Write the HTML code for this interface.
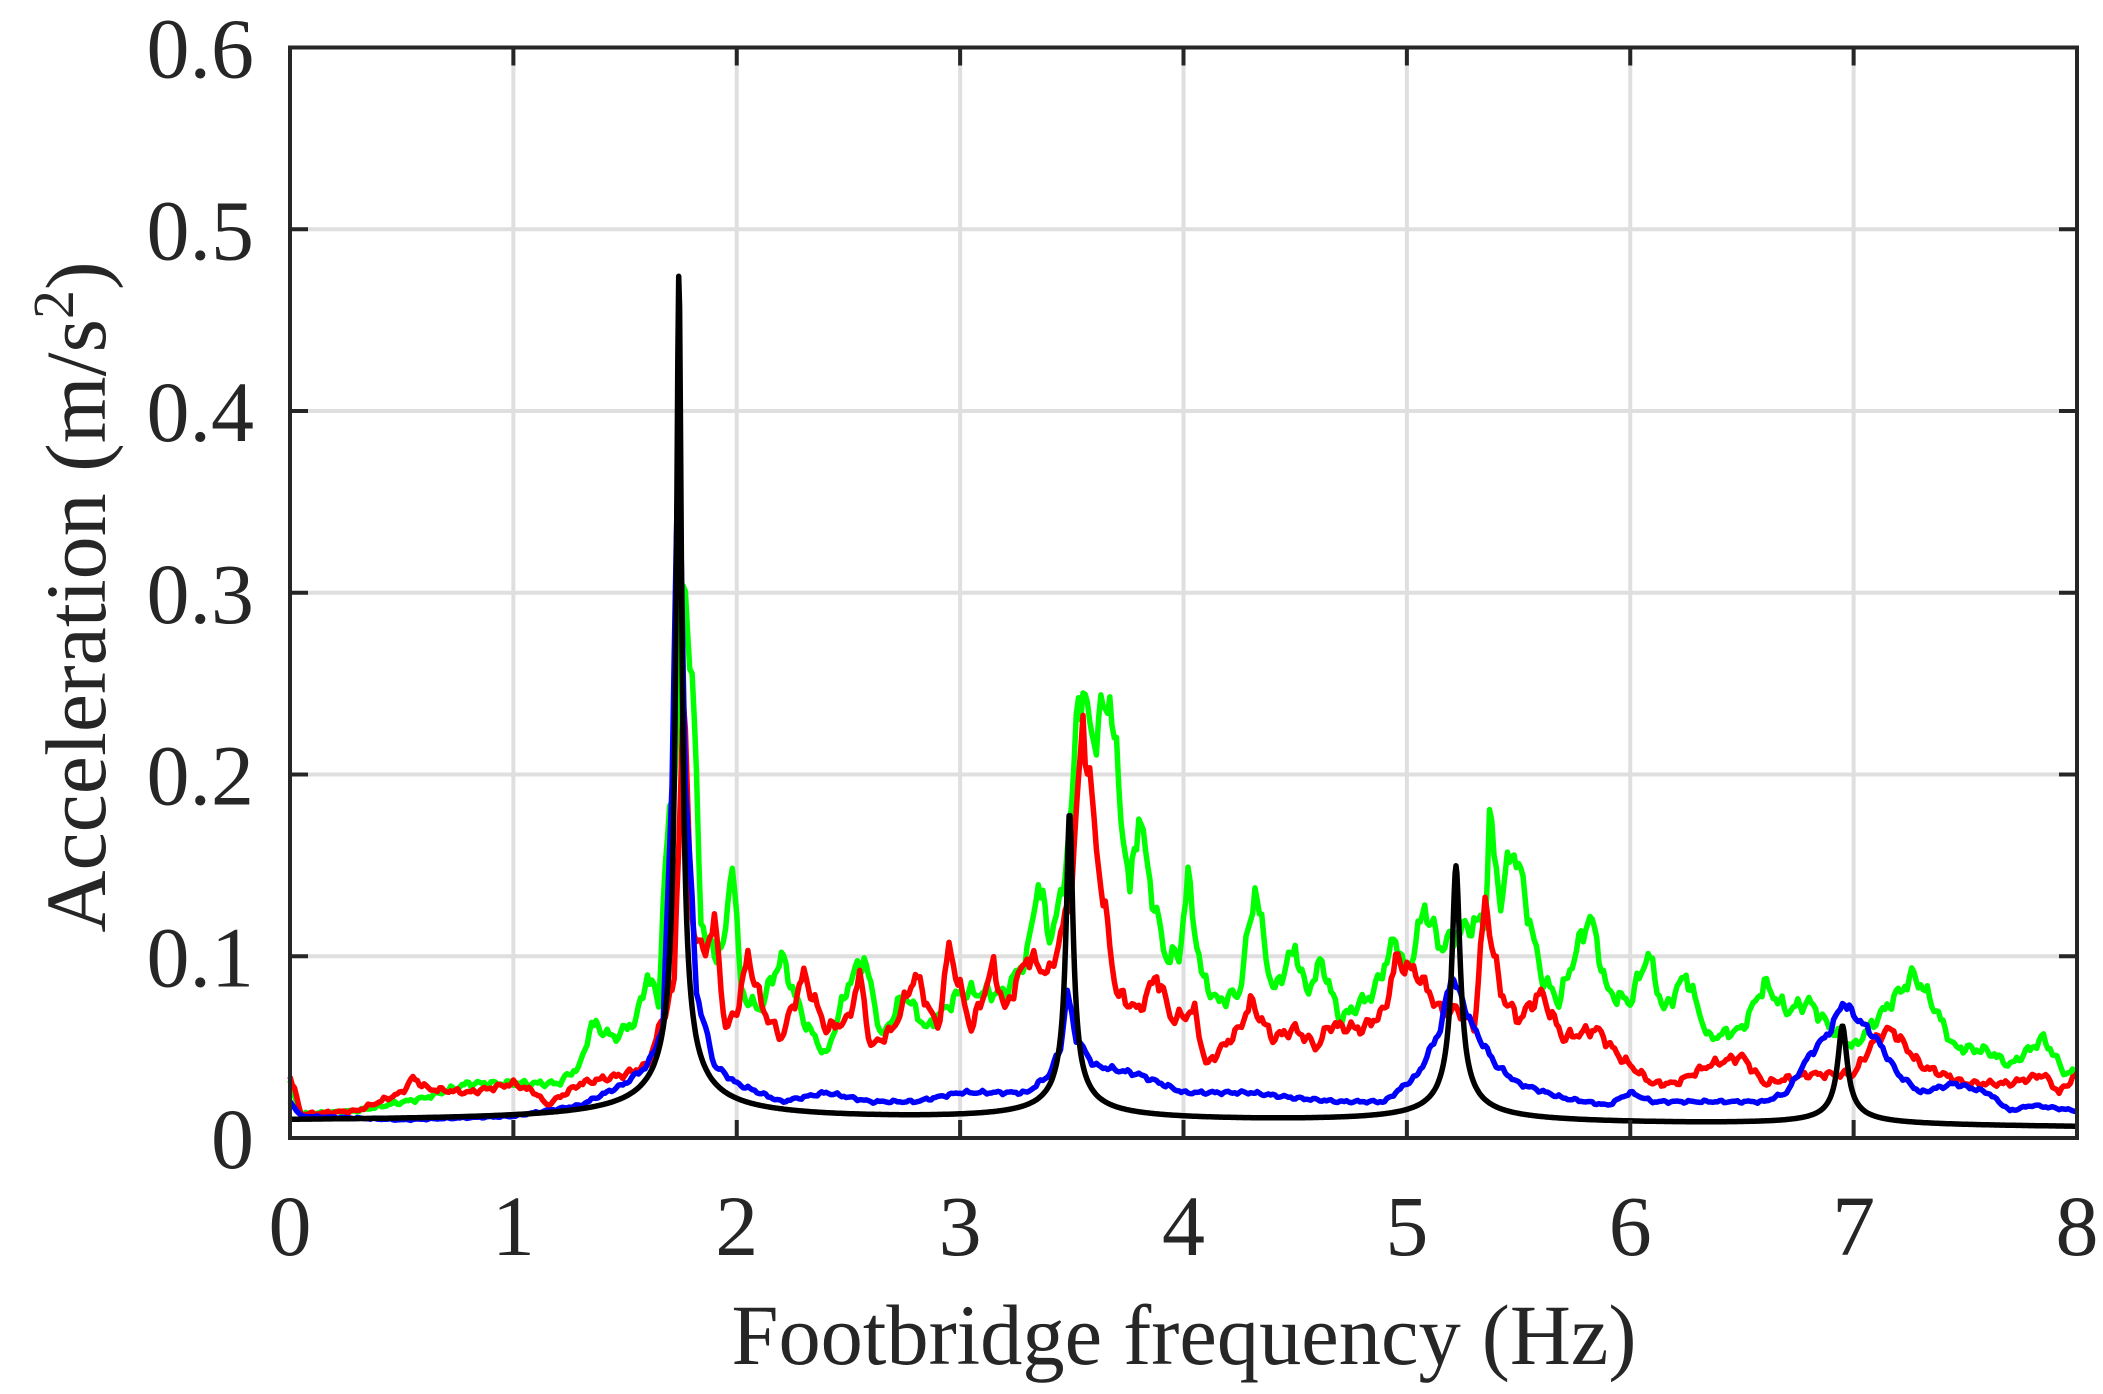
<!DOCTYPE html>
<html><head><meta charset="utf-8"><style>
html,body{margin:0;padding:0;background:#fff;}
svg{display:block;}
text{font-family:"Liberation Serif",serif;fill:#262626;}
</style></head><body>
<svg id="s" width="2103" height="1394" viewBox="0 0 2103 1394" xmlns="http://www.w3.org/2000/svg">
<rect width="2103" height="1394" fill="#fff"/>
<g id="grid" stroke="#dfdfdf" stroke-width="4"></g>
<g id="series" fill="none" stroke-width="5.5" stroke-linejoin="round"></g>
<rect x="290" y="47.5" width="1787" height="1090.5" fill="none" stroke="#262626" stroke-width="4"/>
<g id="ticks" stroke="#262626" stroke-width="4"></g>
<g id="labels" font-size="86"></g>
<text x="1184" y="1364" font-size="86" text-anchor="middle" textLength="905" lengthAdjust="spacingAndGlyphs">Footbridge frequency (Hz)</text>
<text transform="translate(105,597) rotate(-90)" font-size="86" text-anchor="middle">Acceleration (m/s<tspan font-size="58" dy="-32">2</tspan><tspan dy="32">)</tspan></text>
</svg>
<script>
var L=290,R=2077,T=47.5,B=1138;
function X(f){return L+(R-L)*f/8;}
function Y(v){return B-(B-T)*v/0.6;}
var ns="http://www.w3.org/2000/svg";
function el(p,n,a){var e=document.createElementNS(ns,n);for(var k in a)e.setAttribute(k,a[k]);p.appendChild(e);return e;}
var g=document.getElementById('grid'),tk=document.getElementById('ticks'),lb=document.getElementById('labels');
for(var i=1;i<8;i++){el(g,'line',{x1:X(i),x2:X(i),y1:T,y2:B});}
for(var j=1;j<6;j++){var v=j*0.1;el(g,'line',{x1:L,x2:R,y1:Y(v),y2:Y(v)});}
for(var i=0;i<=8;i++){el(tk,'line',{x1:X(i),x2:X(i),y1:B,y2:B-18});el(tk,'line',{x1:X(i),x2:X(i),y1:T,y2:T+18});
 var t=el(lb,'text',{x:X(i),y:1255,'text-anchor':'middle'});t.textContent=i;}
for(var j=0;j<=6;j++){var v=j*0.1;el(tk,'line',{x1:L,x2:L+18,y1:Y(v),y2:Y(v)});el(tk,'line',{x1:R,x2:R-18,y1:Y(v),y2:Y(v)});
 var t=el(lb,'text',{x:254,y:Y(v)+30,'text-anchor':'end'});t.textContent=j==0?'0':v.toFixed(1);}
function interp(pts,f){for(var k=1;k<pts.length;k++){if(f<=pts[k][0]){var a=pts[k-1],b=pts[k];return a[1]+(b[1]-a[1])*(f-a[0])/(b[0]-a[0]);}}return pts[pts.length-1][1];}
function noise(f,s){return Math.sin(f*97+s)*0.5+Math.sin(f*173+s*2)*0.3+Math.sin(f*251+s*3)*0.2;}
function path(pts,amp,seed,color){var d='';for(var f=0;f<=8.0001;f+=0.01){var v=interp(pts,f)+amp*noise(f,seed)*interp(pts,f)*0.6;d+=(f==0?'M':'L')+X(f).toFixed(1)+','+Y(v).toFixed(1);}
 el(document.getElementById('series'),'path',{d:d,stroke:color});}
var green=[[0,0.03],[0.05,0.013],[0.3,0.015],[0.6,0.022],[0.8,0.03],[1.0,0.03],[1.2,0.03],[1.3,0.04],[1.35,0.063],[1.45,0.055],[1.55,0.065],[1.6,0.09],[1.65,0.075],[1.68,0.15],[1.72,0.2],[1.76,0.305],[1.8,0.26],[1.84,0.12],[1.9,0.10],[1.95,0.11],[1.98,0.158],[2.02,0.08],[2.1,0.07],[2.2,0.10],[2.3,0.065],[2.4,0.045],[2.5,0.085],[2.57,0.1],[2.65,0.055],[2.75,0.08],[2.85,0.06],[3.0,0.08],[3.2,0.08],[3.3,0.1],[3.35,0.142],[3.4,0.11],[3.45,0.13],[3.5,0.18],[3.53,0.25],[3.6,0.22],[3.67,0.245],[3.72,0.18],[3.76,0.135],[3.8,0.18],[3.85,0.14],[3.92,0.1],[3.98,0.1],[4.02,0.143],[4.08,0.09],[4.15,0.075],[4.25,0.08],[4.32,0.138],[4.4,0.08],[4.5,0.105],[4.55,0.08],[4.62,0.097],[4.7,0.065],[4.85,0.08],[4.95,0.11],[5.0,0.09],[5.08,0.127],[5.15,0.105],[5.25,0.115],[5.35,0.12],[5.37,0.175],[5.42,0.13],[5.47,0.16],[5.5,0.15],[5.6,0.09],[5.68,0.075],[5.75,0.1],[5.82,0.123],[5.9,0.08],[6.0,0.075],[6.08,0.102],[6.15,0.07],[6.25,0.09],[6.35,0.055],[6.5,0.06],[6.6,0.085],[6.7,0.07],[6.8,0.075],[6.9,0.06],[7.0,0.05],[7.1,0.065],[7.27,0.09],[7.35,0.075],[7.45,0.05],[7.6,0.048],[7.7,0.04],[7.85,0.055],[7.95,0.035],[8.0,0.037]];
var red=[[0,0.035],[0.05,0.013],[0.3,0.015],[0.5,0.025],[0.55,0.033],[0.62,0.027],[0.8,0.025],[1.0,0.03],[1.1,0.025],[1.15,0.018],[1.3,0.03],[1.5,0.035],[1.6,0.04],[1.68,0.07],[1.72,0.085],[1.76,0.245],[1.8,0.12],[1.85,0.1],[1.9,0.12],[1.95,0.06],[2.0,0.07],[2.05,0.1],[2.12,0.07],[2.2,0.055],[2.3,0.09],[2.4,0.06],[2.5,0.065],[2.55,0.09],[2.6,0.05],[2.7,0.06],[2.8,0.09],[2.9,0.06],[2.95,0.105],[3.05,0.06],[3.15,0.095],[3.2,0.07],[3.3,0.1],[3.4,0.09],[3.47,0.12],[3.5,0.14],[3.55,0.23],[3.62,0.15],[3.7,0.08],[3.8,0.07],[3.88,0.09],[3.95,0.065],[4.05,0.07],[4.1,0.04],[4.25,0.06],[4.3,0.075],[4.4,0.055],[4.5,0.06],[4.6,0.05],[4.65,0.062],[4.8,0.06],[4.9,0.07],[4.95,0.098],[5.05,0.09],[5.15,0.07],[5.25,0.07],[5.3,0.06],[5.35,0.13],[5.42,0.08],[5.5,0.065],[5.6,0.08],[5.7,0.055],[5.85,0.06],[5.95,0.045],[6.1,0.03],[6.2,0.03],[6.35,0.04],[6.5,0.045],[6.6,0.03],[6.8,0.035],[7.0,0.035],[7.1,0.055],[7.17,0.06],[7.3,0.04],[7.5,0.03],[7.7,0.03],[7.85,0.035],[7.92,0.025],[8.0,0.035]];
var blue=[[0,0.02],[0.05,0.012],[0.5,0.01],[1.0,0.012],[1.3,0.018],[1.5,0.03],[1.6,0.04],[1.67,0.06],[1.71,0.2],[1.74,0.385],[1.77,0.2],[1.82,0.08],[1.9,0.04],[2.0,0.03],[2.2,0.02],[2.4,0.025],[2.6,0.02],[2.8,0.02],[3.0,0.025],[3.3,0.025],[3.4,0.035],[3.45,0.05],[3.48,0.08],[3.52,0.055],[3.6,0.04],[3.8,0.035],[4.0,0.025],[4.3,0.025],[4.5,0.022],[4.7,0.02],[4.9,0.02],[5.05,0.035],[5.15,0.06],[5.2,0.09],[5.25,0.075],[5.3,0.06],[5.4,0.04],[5.5,0.03],[5.7,0.022],[5.9,0.018],[6.0,0.025],[6.1,0.02],[6.3,0.02],[6.6,0.02],[6.7,0.025],[6.8,0.045],[6.9,0.06],[6.95,0.075],[7.0,0.068],[7.1,0.055],[7.2,0.035],[7.3,0.025],[7.45,0.03],[7.6,0.025],[7.7,0.015],[7.8,0.018],[8.0,0.015]];
path(green,0.12,1,'#00ff00');
path(red,0.12,5,'#ff0000');
path(blue,0.08,9,'#0000ff');
var pk=[[1.741,0.468,0.012],[3.49,0.17,0.016],[5.22,0.142,0.019],[6.95,0.055,0.022]];
var d='';
for(var f=0;f<=8.0001;f+=0.004){var v=0.0075-0.0004*f;
 for(var k=0;k<pk.length;k++){var dd=f-pk[k][0],gg=pk[k][2];v+=pk[k][1]*(0.6*gg/Math.sqrt(dd*dd+gg*gg)+0.4*gg*gg/(dd*dd+gg*gg));}
 d+=(f==0?'M':'L')+X(f).toFixed(1)+','+Y(v).toFixed(1);}
el(document.getElementById('series'),'path',{d:d,stroke:'#000'});
</script>
</body></html>
